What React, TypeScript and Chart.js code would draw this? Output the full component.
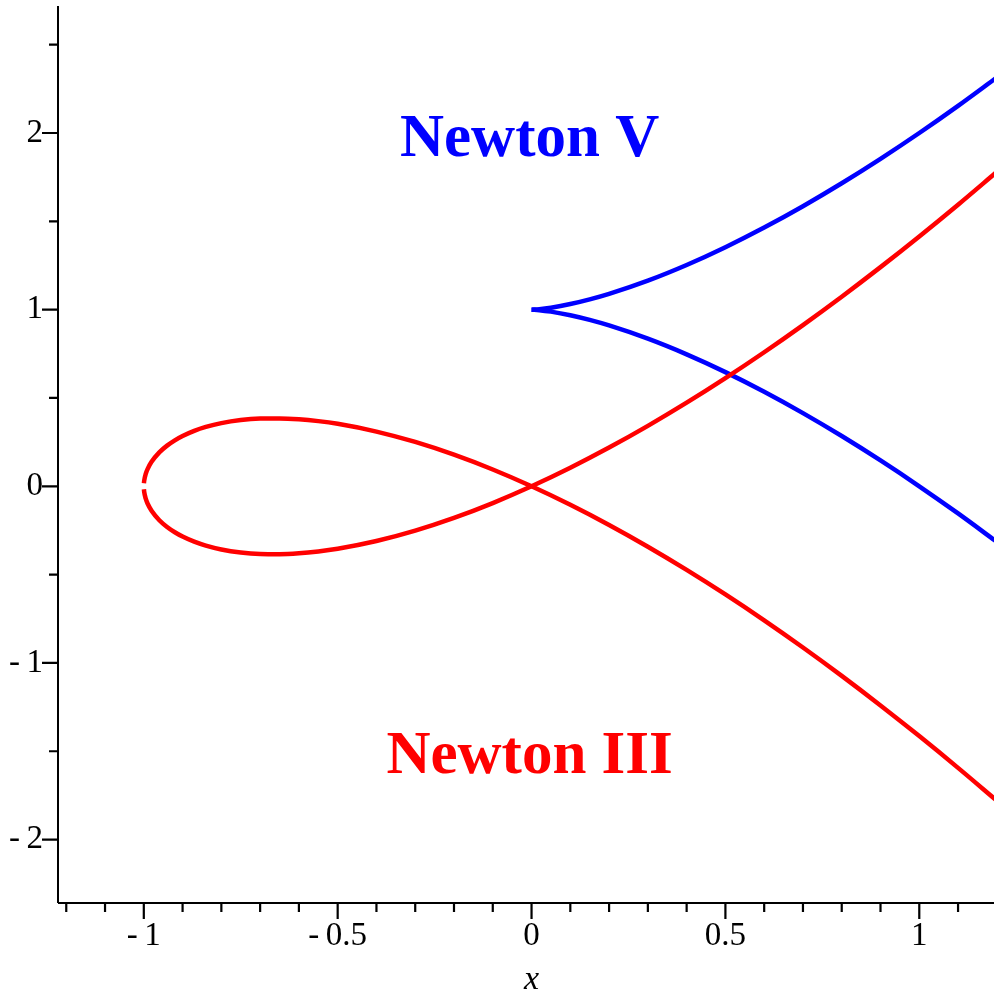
import React, { useEffect, useRef } from "react";
import { Chart, registerables } from "chart.js";

Chart.register(...registerables);

// ---- data ----
const redX = [-0.9997, -0.999, -0.995, -0.99, -0.98, -0.96, -0.94, -0.92, -0.9, -0.87, -0.84, -0.8, -0.75, -0.7, -0.65, -0.6, -0.55, -0.5, -0.4, -0.3, -0.2, -0.1, 0, 0.1, 0.2, 0.3, 0.4, 0.5, 0.6, 0.7, 0.8, 0.9, 1.0, 1.1, 1.2];
// branch through the top of the loop
const redBranchA = [0.0173, 0.0316, 0.0704, 0.099, 0.1386, 0.192, 0.2302, 0.2602, 0.2846, 0.3137, 0.336, 0.3578, 0.375, 0.3834, 0.3845, 0.3795, 0.3689, 0.3536, 0.3098, 0.251, 0.1789, 0.0949, 0, -0.1049, -0.2191, -0.3421, -0.4733, -0.6124, -0.7589, -0.9127, -1.0733, -1.2406, -1.4142, -1.594, -1.7799];
// branch through the bottom of the loop
const redBranchB = [-0.0173, -0.0316, -0.0704, -0.099, -0.1386, -0.192, -0.2302, -0.2602, -0.2846, -0.3137, -0.336, -0.3578, -0.375, -0.3834, -0.3845, -0.3795, -0.3689, -0.3536, -0.3098, -0.251, -0.1789, -0.0949, 0, 0.1049, 0.2191, 0.3421, 0.4733, 0.6124, 0.7589, 0.9127, 1.0733, 1.2406, 1.4142, 1.594, 1.7799];

const blueX = [0, 0.02, 0.05, 0.1, 0.15, 0.2, 0.3, 0.4, 0.5, 0.6, 0.7, 0.8, 0.9, 1.0, 1.1, 1.2];
const blueUpper = [1, 1.0028, 1.0112, 1.0316, 1.0581, 1.0894, 1.1643, 1.253, 1.3536, 1.4648, 1.5857, 1.7155, 1.8538, 2, 2.1537, 2.3145];
const blueLower = [1, 0.9972, 0.9888, 0.9684, 0.9419, 0.9106, 0.8357, 0.747, 0.6464, 0.5352, 0.4143, 0.2845, 0.1462, 0, -0.1537, -0.3145];

const xMajorTicks = [-1, -0.5, 0, 0.5, 1];
const xMinorTicks = [-1.2, -1.1, -0.9, -0.8, -0.7, -0.6, -0.4, -0.3, -0.2, -0.1, 0.1, 0.2, 0.3, 0.4, 0.6, 0.7, 0.8, 0.9, 1.1];
const yMajorTicks = [-2, -1, 0, 1, 2];
const yMinorTicks = [-1.5, -0.5, 0.5, 1.5, 2.5];

const xLabels = ["-\u20091", "-\u20090.5", "0", "0.5", "1"];
const yLabels = ["-\u20092", "-\u20091", "0", "1", "2"];

const xAxisTitle = "x";
const curveNames = ["Newton V", "Newton III"];

const BLUE = "#0000ff";
const RED = "#ff0000";
const SERIF = "'Liberation Serif', 'Times New Roman', serif";

function pts(xs: number[], ys: number[]) {
  return xs.map((x, i) => ({ x, y: ys[i] }));
}

const axesPlugin = {
  id: "mapleAxes",
  afterDraw(chart: any) {
    const { ctx, chartArea, scales } = chart;
    const xs = scales.x;
    const ys = scales.y;
    const left = chartArea.left;
    const bottom = chartArea.bottom;
    ctx.save();
    ctx.strokeStyle = "#000";
    ctx.lineWidth = 2;
    ctx.beginPath();
    ctx.moveTo(left, chartArea.top);
    ctx.lineTo(left, bottom);
    ctx.moveTo(left, bottom);
    ctx.lineTo(chartArea.right, bottom);
    ctx.stroke();
    ctx.lineWidth = 2.2;
    ctx.beginPath();
    xMajorTicks.forEach((v) => {
      const p = xs.getPixelForValue(v);
      ctx.moveTo(p, bottom);
      ctx.lineTo(p, bottom + 16);
    });
    xMinorTicks.forEach((v) => {
      const p = xs.getPixelForValue(v);
      ctx.moveTo(p, bottom);
      ctx.lineTo(p, bottom + 9);
    });
    yMajorTicks.forEach((v) => {
      const p = ys.getPixelForValue(v);
      ctx.moveTo(left, p);
      ctx.lineTo(left - 16, p);
    });
    yMinorTicks.forEach((v) => {
      const p = ys.getPixelForValue(v);
      ctx.moveTo(left, p);
      ctx.lineTo(left - 9, p);
    });
    ctx.stroke();

    // axis title, centred under x = 0 as in the original
    ctx.font = `italic 34px ${SERIF}`;
    ctx.fillStyle = "#000";
    ctx.textAlign = "center";
    ctx.textBaseline = "alphabetic";
    ctx.fillText(xAxisTitle, xs.getPixelForValue(0), bottom + 86);

    // curve names
    ctx.font = `bold 61px ${SERIF}`;
    ctx.fillStyle = BLUE;
    ctx.fillText(curveNames[0], xs.getPixelForValue(-0.005), ys.getPixelForValue(1.87));
    ctx.fillStyle = RED;
    ctx.fillText(curveNames[1], xs.getPixelForValue(-0.005), ys.getPixelForValue(-1.622));
    ctx.restore();
  },
};

export default function App() {
  const ref = useRef<HTMLCanvasElement | null>(null);
  useEffect(() => {
    if (!ref.current) return;
    const lineDs = (label: string, xs: number[], ys: number[], color: string) => ({
      label,
      data: pts(xs, ys),
      borderColor: color,
      backgroundColor: color,
      borderWidth: 4.5,
      pointRadius: 0,
      showLine: true,
      fill: false,
      cubicInterpolationMode: "monotone" as const,
      borderCapStyle: "butt" as const,
    });
    const chart = new Chart(ref.current, {
      type: "scatter",
      data: {
        datasets: [
          lineDs("Newton III a", redX, redBranchA, RED),
          lineDs("Newton III b", redX, redBranchB, RED),
          lineDs("Newton V upper", blueX, blueUpper, BLUE),
          lineDs("Newton V lower", blueX, blueLower, BLUE),
        ],
      },
      options: {
        responsive: false,
        animation: false,
        layout: { padding: { top: 6, right: 0, left: 0, bottom: 0 } },
        plugins: { legend: { display: false }, tooltip: { enabled: false }, title: { display: false } },
        scales: {
          x: {
            type: "linear",
            min: -1.2213,
            max: 1.1927,
            grid: { display: false, drawTicks: false },
            border: { display: false },
            afterBuildTicks: (s: any) => {
              s.ticks = xMajorTicks.map((v) => ({ value: v }));
            },
            afterFit: (s: any) => {
              s.height = 96;
              s.paddingLeft = 0;
              s.paddingRight = 0;
              s.paddingTop = 0;
              s.paddingBottom = 0;
            },
            ticks: {
              padding: 14,
              maxRotation: 0,
              autoSkip: false,
              color: "#000",
              font: { family: SERIF, size: 33 },
              callback: (v: any) => xLabels[xMajorTicks.indexOf(Number(v))] ?? String(v),
            },
          },
          y: {
            type: "linear",
            min: -2.359,
            max: 2.719,
            grid: { display: false, drawTicks: false },
            border: { display: false },
            afterBuildTicks: (s: any) => {
              s.ticks = yMajorTicks.map((v) => ({ value: v }));
            },
            afterFit: (s: any) => {
              s.width = 58;
              s.paddingLeft = 0;
              s.paddingRight = 0;
              s.paddingTop = 0;
              s.paddingBottom = 0;
            },
            ticks: {
              padding: 15,
              autoSkip: false,
              color: "#000",
              font: { family: SERIF, size: 33 },
              callback: (v: any) => yLabels[yMajorTicks.indexOf(Number(v))] ?? String(v),
            },
          },
        },
      },
      plugins: [axesPlugin],
    });
    return () => chart.destroy();
  }, []);
  return (
    <div style={{ position: "fixed", left: 0, top: 0, width: 994, height: 999, background: "#fff", overflow: "hidden" }}>
      <canvas ref={ref} width={994} height={999} style={{ display: "block", width: 994, height: 999 }} />
    </div>
  );
}
